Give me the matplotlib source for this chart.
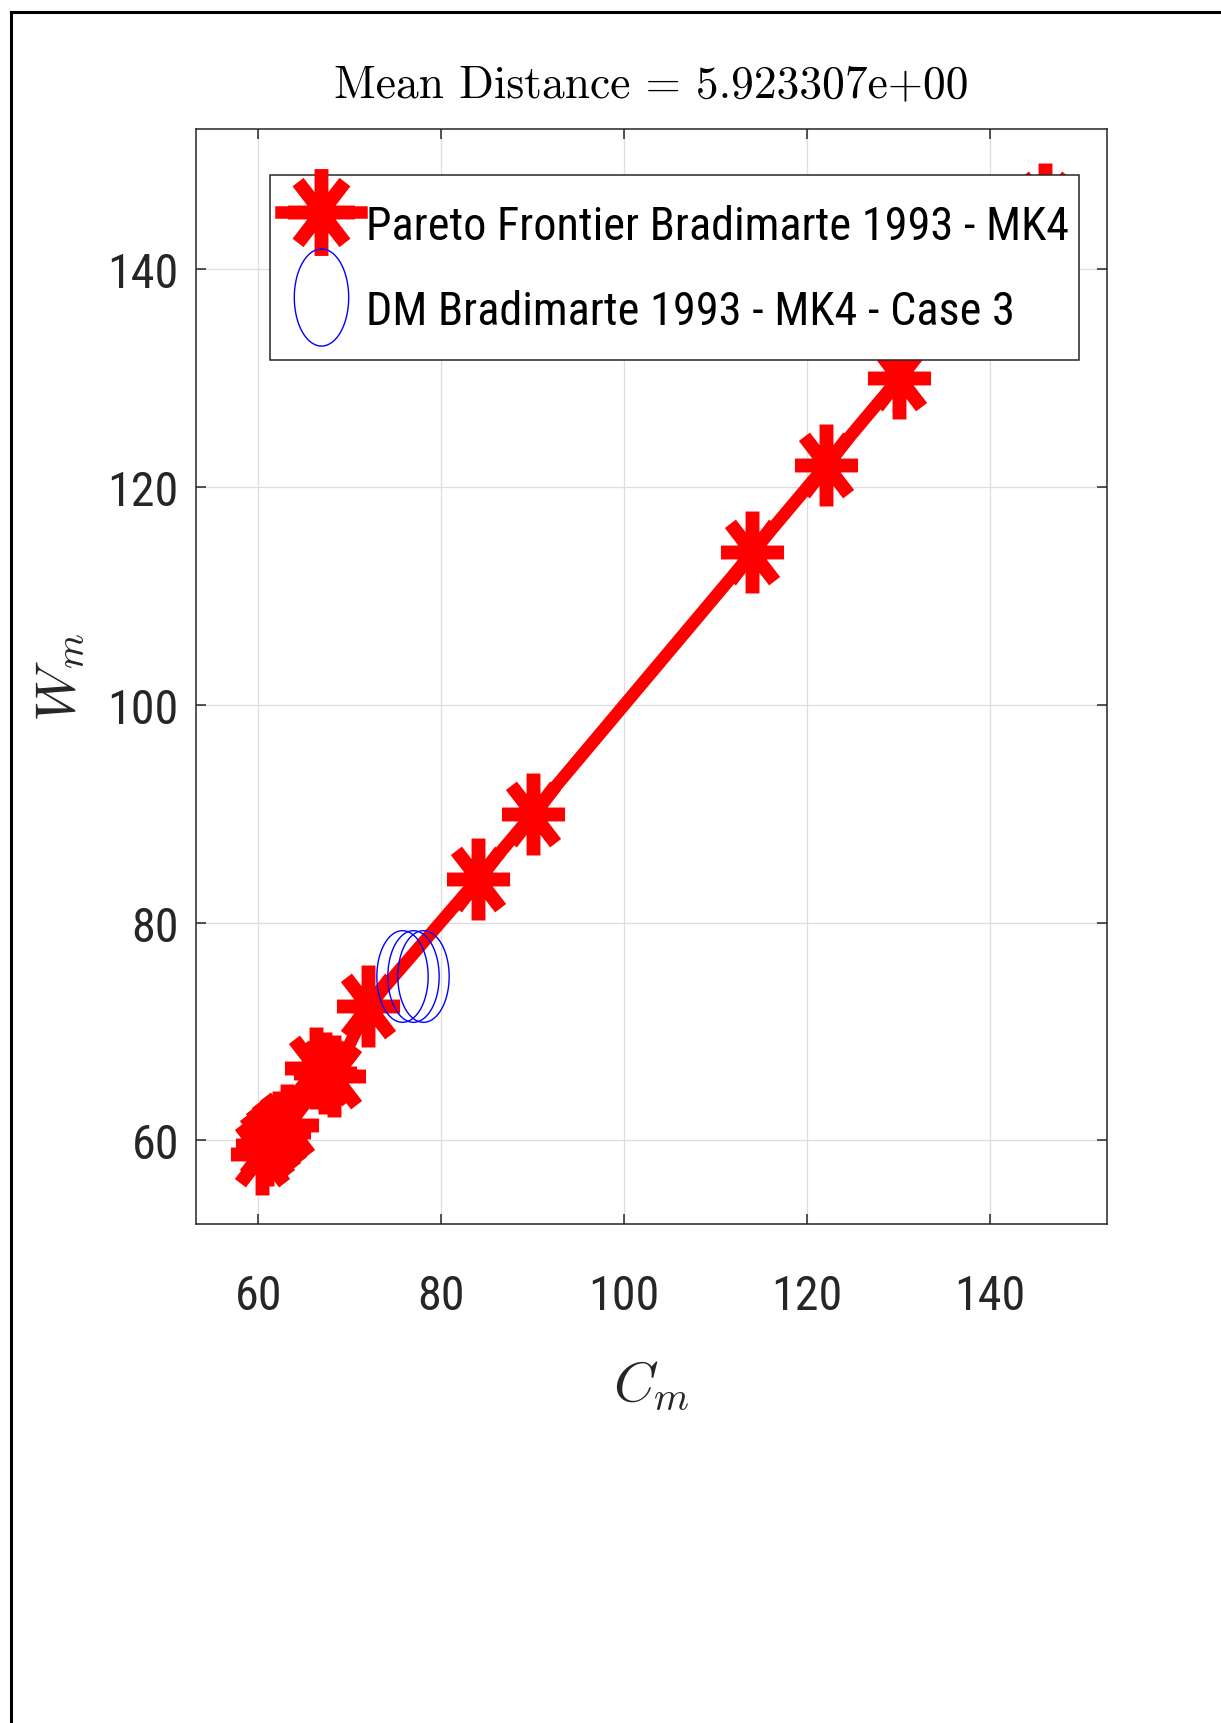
import numpy as np
import matplotlib
matplotlib.use("Agg")
import matplotlib.pyplot as plt
from matplotlib.path import Path
from matplotlib.lines import Line2D
import matplotlib.font_manager as fm
from matplotlib.font_manager import FontProperties

# ---------------- data ----------------
pareto_cm = [60.4, 61.0, 61.6, 62.3, 63.1, 66.3, 67.3, 68.3, 72.0, 84.0, 90.0, 114.0, 122.0, 130.0, 146.0]
pareto_wm = [58.7, 59.6, 60.2, 60.8, 61.4, 66.6, 66.2, 65.9, 72.3, 84.0, 90.0, 114.0, 122.0, 130.0, 146.0]
dm_cm = [75.7, 76.9, 78.0]
dm_wm = [75.1, 75.1, 75.1]
xticks = [60, 80, 100, 120, 140]
yticks = [60, 80, 100, 120, 140]
title_text = "Mean Distance = 5.923307e+00"
label_pareto = "Pareto Frontier Bradimarte 1993 - MK4"
label_dm = "DM Bradimarte 1993 - MK4 - Case 3"

plt.rcParams['mathtext.fontset'] = 'cm'


def pick_narrow():
    fl = fm.fontManager.ttflist
    prefs = ['Liberation Sans Narrow', 'Arial Narrow', 'Roboto Condensed',
             'Noto Sans Condensed', 'Open Sans Condensed', 'DejaVu Sans Condensed']
    for p in prefs:
        for f in fl:
            if f.name == p and f.style == 'normal' and f.weight == 400:
                return f.fname
    for base in ['Liberation Sans', 'Roboto', 'Noto Sans', 'Open Sans', 'DejaVu Sans']:
        for f in fl:
            if (f.name == base and f.style == 'normal' and f.weight == 400
                    and str(f.stretch) in ('condensed', 'semi-condensed', 'extra-condensed')):
                return f.fname
    return None


narrow = pick_narrow()


def sans_prop(size):
    if narrow:
        return FontProperties(fname=narrow, size=size)
    return FontProperties(family=['Liberation Sans', 'DejaVu Sans'], size=size)


# custom markers (stretched asterisk and ellipse, as in the reference)
sa, db, dc = 0.77, 0.54, 0.70
star_path = Path(
    [(0, -1), (0, 1), (-sa, 0), (sa, 0), (-db, -dc), (db, dc), (-db, dc), (db, -dc)],
    [Path.MOVETO, Path.LINETO] * 4)
t = np.linspace(0, 2 * np.pi, 73)
ell_path = Path(np.column_stack([0.56 * np.cos(t), np.sin(t)]))

W, H, DPI = 1221, 1724, 100
fig = plt.figure(figsize=(W / DPI, H / DPI), dpi=DPI)
fig.patch.set_facecolor('white')
renderer = fig.canvas.get_renderer()


def fit_size(text, prop_maker, target_px, ref=20.0):
    w, h, d = renderer.get_text_width_height_descent(text, prop_maker(ref), ismath=False)
    return ref * target_px / w


tick_size = fit_size("140", sans_prop, 71.0)
leg_size = fit_size(label_pareto, sans_prop, 700.0)
title_size = fit_size(title_text, lambda s: FontProperties(family='cmr10', size=s), 635.0)

ax = fig.add_axes([195.6 / W, 1 - 1225.4 / H, (1106.7 - 195.6) / W, (1225.4 - 129.7) / H])

ax.plot(pareto_cm, pareto_wm, color=(1, 0, 0), linewidth=9, marker=star_path,
        markersize=59, markeredgewidth=10, fillstyle='none',
        label=label_pareto, zorder=3)
ax.plot(dm_cm, dm_wm, linestyle='none', marker=ell_path, markersize=66,
        markeredgewidth=1.0, markeredgecolor=(0, 0, 1), fillstyle='none',
        label=label_dm, zorder=4)

ax.set_xlim(53.15, 152.72)
ax.set_ylim(52.27, 152.93)
ax.set_xticks(xticks)
ax.set_yticks(yticks)
ax.set_xticklabels([str(v) for v in xticks])
ax.set_yticklabels([str(v) for v in yticks])

edge = '#262626'
for sp in ax.spines.values():
    sp.set_color(edge)
    sp.set_linewidth(1.1)
ax.grid(True, color='#dedede', linewidth=0.9)
ax.set_axisbelow(True)
ax.tick_params(axis='both', which='both', direction='in', length=7, width=1.1,
               color=edge, top=True, right=True, labelcolor='#262626')
ax.tick_params(axis='x', pad=35)
ax.tick_params(axis='y', pad=12)
for lab in ax.get_xticklabels() + ax.get_yticklabels():
    lab.set_fontproperties(sans_prop(tick_size))

ax.set_title(title_text, fontfamily='cmr10', fontsize=title_size, pad=23, color='black')
ax.set_xlabel(r'$C_m$', fontsize=41, color='#262626')
ax.set_ylabel(r'$W_m$', fontsize=41, color='#262626')
ax.xaxis.set_label_coords(0.5, -0.12)
ax.yaxis.set_label_coords(-0.12, 0.5)

leg_px = leg_size * DPI / 72.0
row_h = 79.0
hh = (row_h / leg_px - 0.245) / 0.65
leg = ax.legend(loc='upper left', bbox_to_anchor=(0.0817, 0.958), borderaxespad=0,
                prop=sans_prop(leg_size), handlelength=80.0 / leg_px,
                handleheight=hh, handletextpad=5.0 / leg_px,
                borderpad=10.5 / leg_px, labelspacing=6.0 / leg_px,
                fancybox=False, framealpha=1, edgecolor=edge, numpoints=1,
                markerscale=1.06)
leg.get_frame().set_linewidth(1.1)
leg.set_zorder(10)

# figure border lines (top and left) as in the reference
fig.add_artist(Line2D([11 / W, 1.0], [1 - 13 / H, 1 - 13 / H], color='black', linewidth=2.2,
                      transform=fig.transFigure))
fig.add_artist(Line2D([11 / W, 11 / W], [0.0, 1 - 13 / H], color='black', linewidth=2.2,
                      transform=fig.transFigure))

fig.savefig('out.png', dpi=DPI, facecolor='white')
